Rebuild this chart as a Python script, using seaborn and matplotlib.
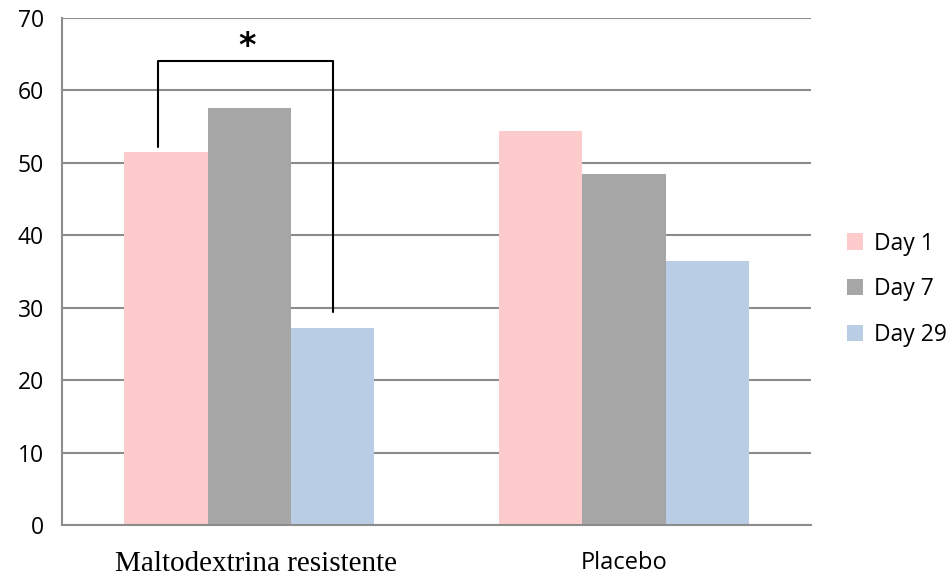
import pandas as pd
import numpy as np
import matplotlib.pyplot as plt
import seaborn as sns
from matplotlib.transforms import ScaledTranslation

# values
groups = ['Maltodextrina resistente', 'Placebo']
days = ['Day 1', 'Day 7', 'Day 29']
day1 = [51.5, 54.4]
day7 = [57.6, 48.4]
day29 = [27.2, 36.4]
colors = ['#FDCBCB', '#A6A6A6', '#B9CDE5']
y_ticks = [0, 10, 20, 30, 40, 50, 60, 70]

df = pd.DataFrame({
    'group': groups * 3,
    'day': [d for d in days for _ in groups],
    'value': day1 + day7 + day29,
})

sns.set_style('white')
plt.rcParams['font.family'] = ['Open Sans', 'DejaVu Sans']
plt.rcParams['text.color'] = 'black'
plt.rcParams['xtick.color'] = 'black'
plt.rcParams['ytick.color'] = 'black'

fig = plt.figure(figsize=(9.52, 5.76), dpi=100)
ax = fig.add_axes([0.0651, 0.0885, 0.787, 0.8802])

sns.barplot(data=df, x='group', y='value', hue='day', hue_order=days,
            palette=colors, saturation=1, width=0.667, linewidth=0, ax=ax)

grid_col = '#8C8C8C'
ax.set_ylim(0, 70)
ax.set_xlim(-0.5, 1.5)
ax.set_yticks(y_ticks)
ax.yaxis.grid(True, color=grid_col, linewidth=1.5)
ax.set_axisbelow(True)
for s in ['top', 'right']:
    ax.spines[s].set_visible(False)
for s in ['left', 'bottom']:
    ax.spines[s].set_color(grid_col)
    ax.spines[s].set_linewidth(1.5)

ax.tick_params(axis='y', length=8, width=1.5, color=grid_col, labelsize=16.5, pad=5)
ax.tick_params(axis='x', which='major', length=0, pad=19)
ax.set_xticks([-0.5, 0.5, 1.5], minor=True)
ax.tick_params(axis='x', which='minor', length=8, width=1.5, color=grid_col, direction='out')
ax.set_xlabel('')
ax.set_ylabel('')

labels = ax.get_xticklabels()
labels[0].set_fontfamily('Liberation Serif')
labels[0].set_fontsize(21)
labels[0].set_transform(labels[0].get_transform() + ScaledTranslation(0.07, 0, fig.dpi_scale_trans))
labels[1].set_fontfamily('Open Sans')
labels[1].set_fontsize(17)

# significance bracket between Day 1 and Day 29 of the first group
bars = ax.patches
b1 = bars[0]
b29 = bars[4]
x_left = b1.get_x() + b1.get_width() * 0.4
x_right = b29.get_x() + b29.get_width() * 0.5
top = 64
ax.plot([x_left, x_left, x_right, x_right],
        [day1[0] + 0.7, top, top, day29[0] + 2.2],
        color='black', linewidth=1.5, clip_on=False)
ax.text((x_left + x_right) / 2 + 0.005, top + 2.0, '*', ha='center', va='center',
        fontsize=24, fontweight='bold', family='DejaVu Sans')

leg = ax.legend(loc='center left', bbox_to_anchor=(1.02, 0.465), frameon=False,
                fontsize=16.5, handlelength=0.7, handleheight=0.7, handletextpad=0.5,
                labelspacing=0.95)

fig.savefig('out.png', dpi=100)
